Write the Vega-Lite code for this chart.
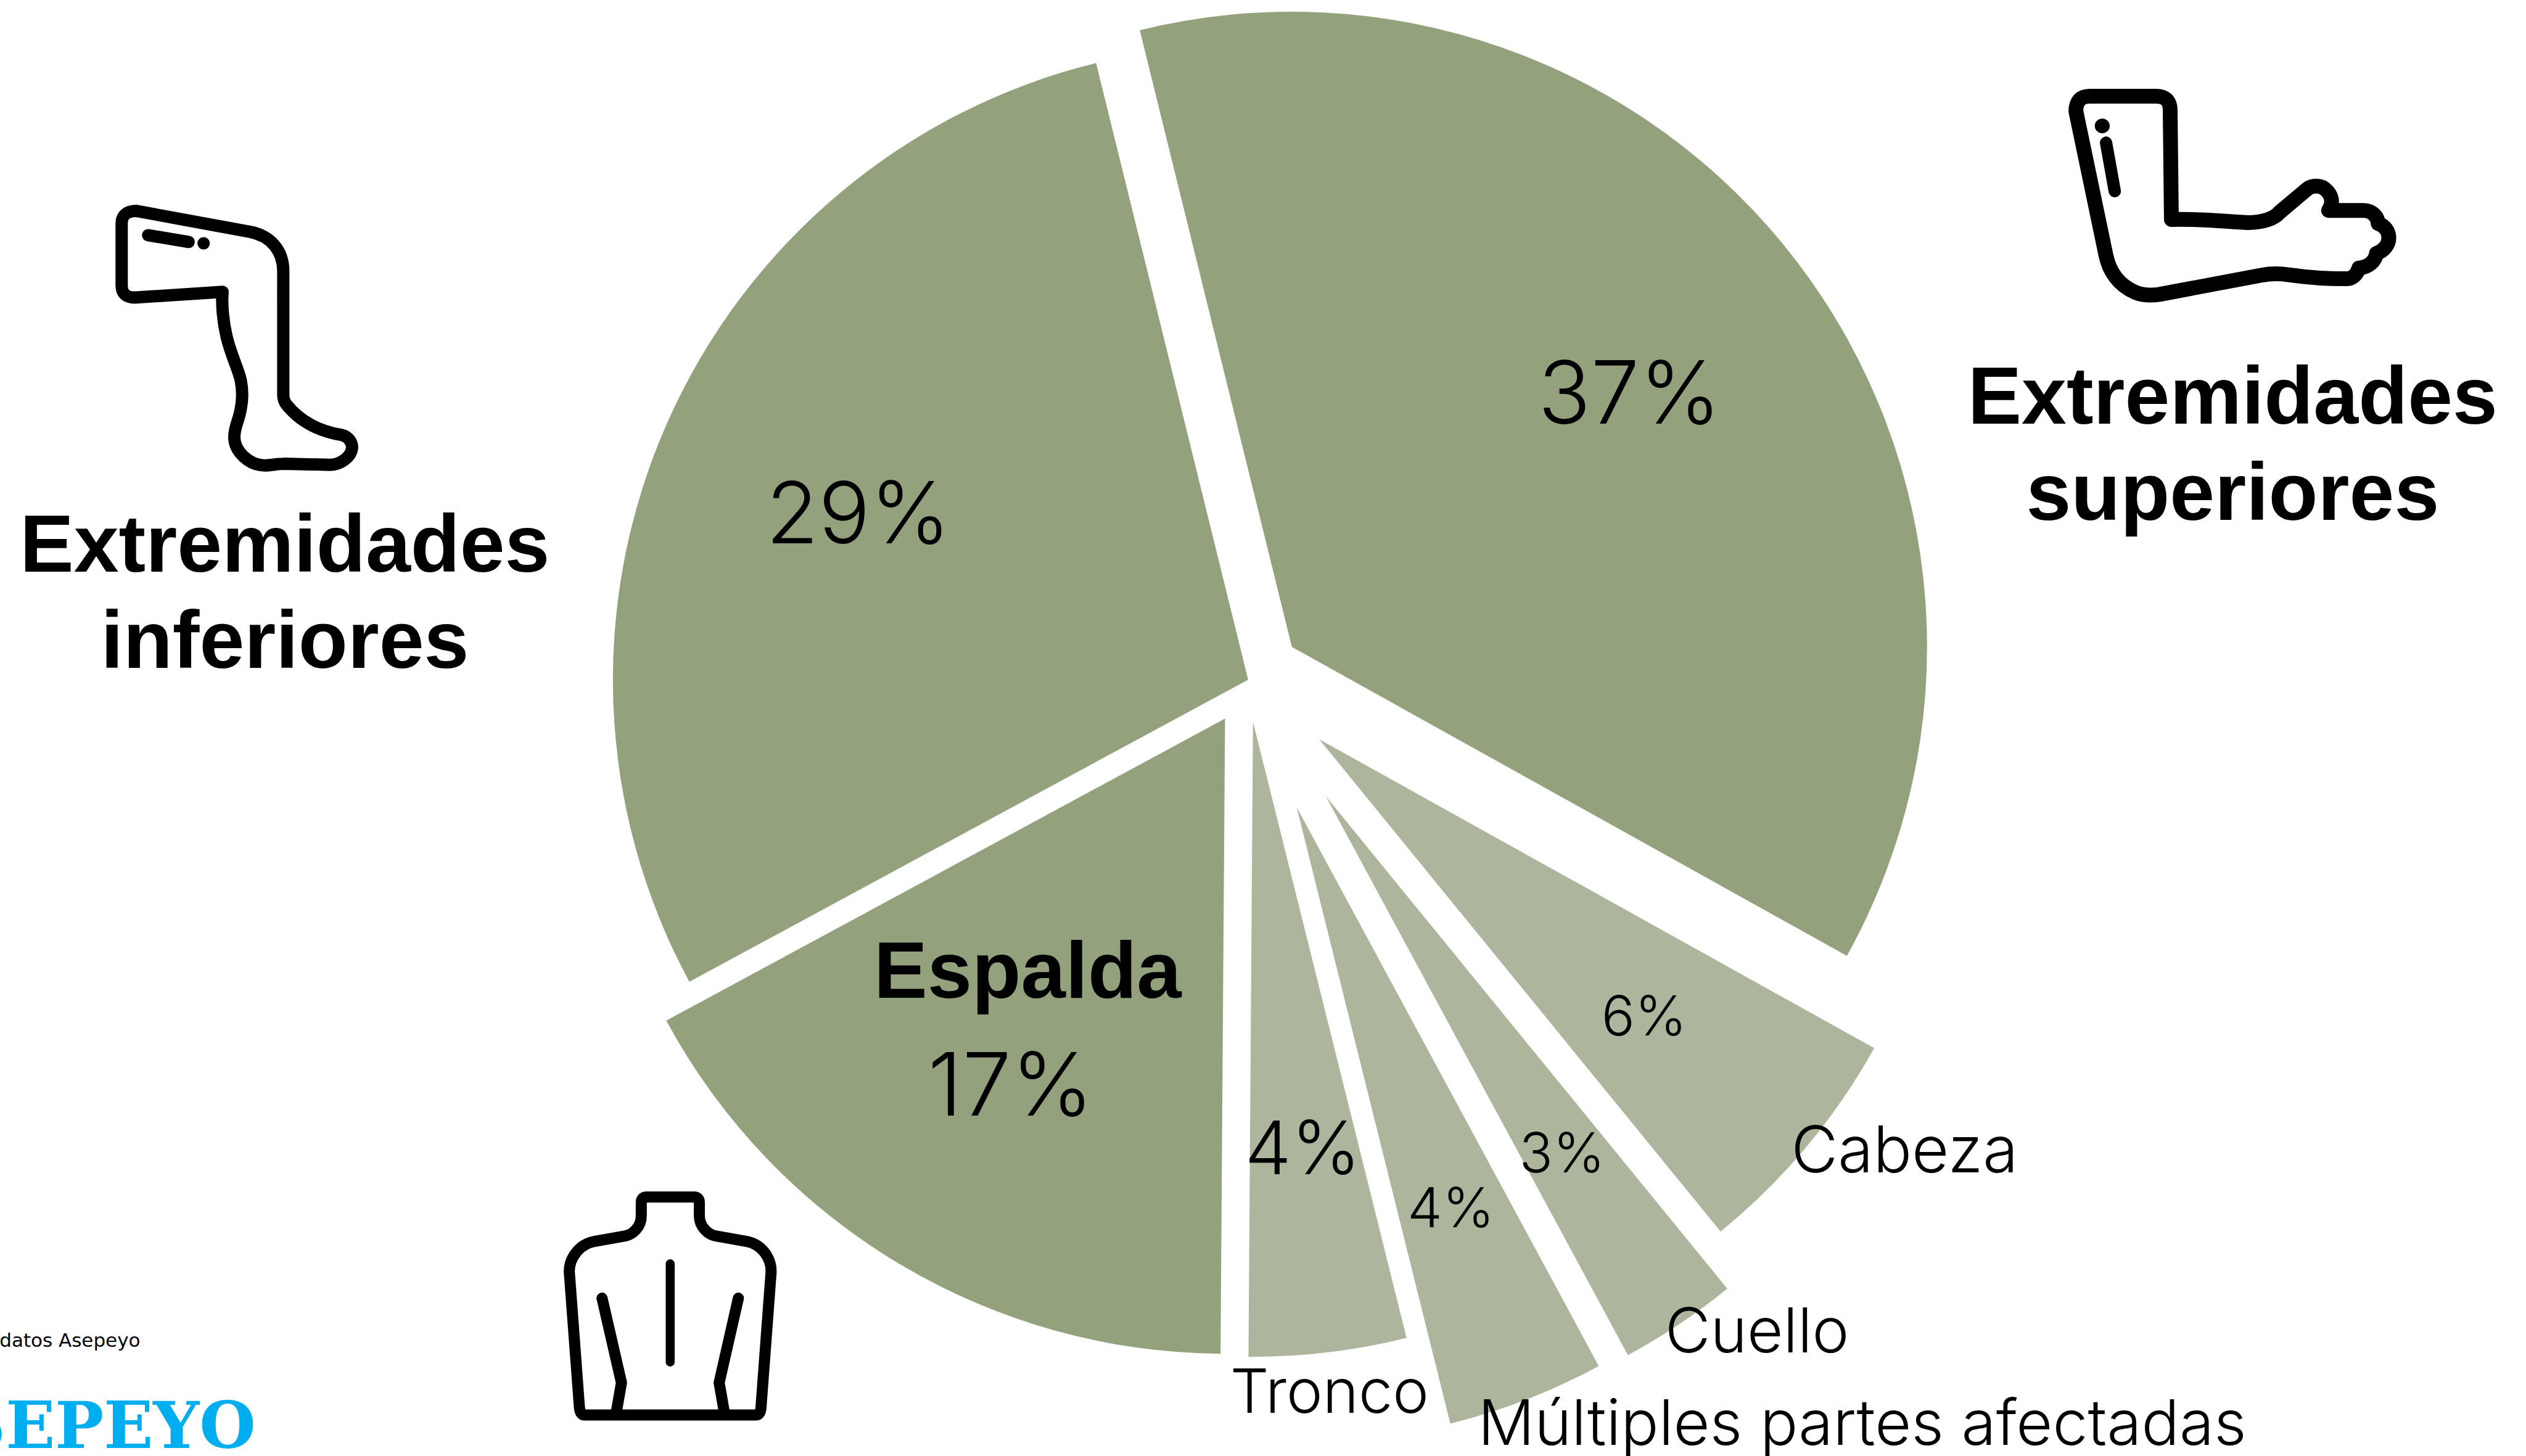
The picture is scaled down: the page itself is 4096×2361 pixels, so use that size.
{"$schema":"https://vega.github.io/schema/vega-lite/v6.json","width":4096,"height":2361,"padding":0,"autosize":{"type":"none"},"background":"#ffffff","config":{"view":{"stroke":null},"text":{"font":"Inter","fontWeight":300,"color":"#000000"}},
"data":{"values":[
{"part":"Extremidades superiores","share":"37%","value":36.93,"group":"main"},
{"part":"Cabeza","share":"6%","value":6.03,"group":"other"},
{"part":"Cuello","share":"3%","value":3.0,"group":"other"},
{"part":"Múltiples partes afectadas","share":"4%","value":4.0,"group":"other"},
{"part":"Tronco","share":"4%","value":4.0,"group":"other"},
{"part":"Espalda","share":"17%","value":17.0,"group":"main"},
{"part":"Extremidades inferiores","share":"29%","value":29.04,"group":"main"}
]},
"transform":[{"stack":"value","groupby":[],"as":["v0","v1"]}],
"layer":[
{"transform":[{"filter":"datum.part==='Extremidades superiores'"}],"mark":{"type":"arc","outerRadius":1030,"fill":"#93a17d"},"encoding":{"x":{"datum":2127,"type":"quantitative","scale":{"domain":[0,4159]},"axis":null},"y":{"datum":1065,"type":"quantitative","scale":{"domain":[2397,0]},"axis":null},"theta":{"field":"v0","type":"quantitative","stack":null,"scale":{"domain":[0,100],"range":[-0.24173,6.04146]}},"theta2":{"field":"v1"}}},
{"transform":[{"filter":"datum.part==='Extremidades inferiores'"}],"mark":{"type":"arc","outerRadius":1030,"fill":"#93a17d"},"encoding":{"x":{"datum":2055,"type":"quantitative","scale":{"domain":[0,4159]},"axis":null},"y":{"datum":1119,"type":"quantitative","scale":{"domain":[2397,0]},"axis":null},"theta":{"field":"v0","type":"quantitative","stack":null,"scale":{"domain":[0,100],"range":[-0.24173,6.04146]}},"theta2":{"field":"v1"}}},
{"transform":[{"filter":"datum.part==='Espalda'"}],"mark":{"type":"arc","outerRadius":1030,"fill":"#93a17d"},"encoding":{"x":{"datum":2017,"type":"quantitative","scale":{"domain":[0,4159]},"axis":null},"y":{"datum":1183,"type":"quantitative","scale":{"domain":[2397,0]},"axis":null},"theta":{"field":"v0","type":"quantitative","stack":null,"scale":{"domain":[0,100],"range":[-0.24173,6.04146]}},"theta2":{"field":"v1"}}},
{"transform":[{"filter":"datum.part==='Tronco'"}],"mark":{"type":"arc","outerRadius":1030,"fill":"#adb69c"},"encoding":{"x":{"datum":2063,"type":"quantitative","scale":{"domain":[0,4159]},"axis":null},"y":{"datum":1188,"type":"quantitative","scale":{"domain":[2397,0]},"axis":null},"theta":{"field":"v0","type":"quantitative","stack":null,"scale":{"domain":[0,100],"range":[-0.24173,6.04146]}},"theta2":{"field":"v1"}}},
{"transform":[{"filter":"datum.part==='Múltiples partes afectadas'"}],"mark":{"type":"arc","outerRadius":1030,"fill":"#adb69c"},"encoding":{"x":{"datum":2135,"type":"quantitative","scale":{"domain":[0,4159]},"axis":null},"y":{"datum":1329,"type":"quantitative","scale":{"domain":[2397,0]},"axis":null},"theta":{"field":"v0","type":"quantitative","stack":null,"scale":{"domain":[0,100],"range":[-0.24173,6.04146]}},"theta2":{"field":"v1"}}},
{"transform":[{"filter":"datum.part==='Cuello'"}],"mark":{"type":"arc","outerRadius":1030,"fill":"#adb69c"},"encoding":{"x":{"datum":2183,"type":"quantitative","scale":{"domain":[0,4159]},"axis":null},"y":{"datum":1311,"type":"quantitative","scale":{"domain":[2397,0]},"axis":null},"theta":{"field":"v0","type":"quantitative","stack":null,"scale":{"domain":[0,100],"range":[-0.24173,6.04146]}},"theta2":{"field":"v1"}}},
{"transform":[{"filter":"datum.part==='Cabeza'"}],"mark":{"type":"arc","outerRadius":1030,"fill":"#adb69c"},"encoding":{"x":{"datum":2172,"type":"quantitative","scale":{"domain":[0,4159]},"axis":null},"y":{"datum":1217,"type":"quantitative","scale":{"domain":[2397,0]},"axis":null},"theta":{"field":"v0","type":"quantitative","stack":null,"scale":{"domain":[0,100],"range":[-0.24173,6.04146]}},"theta2":{"field":"v1"}}},

{"transform":[{"filter":"datum.part==='Extremidades superiores'"}],"mark":{"type":"text","fontSize":141,"baseline":"alphabetic","align":"center"},"encoding":{"x":{"datum":2683,"type":"quantitative","scale":{"domain":[0,4159]},"axis":null},"y":{"datum":697,"type":"quantitative","scale":{"domain":[2397,0]},"axis":null},"text":{"field":"share"}}},
{"transform":[{"filter":"datum.part==='Extremidades inferiores'"}],"mark":{"type":"text","fontSize":139,"baseline":"alphabetic","align":"center"},"encoding":{"x":{"datum":1413,"type":"quantitative","scale":{"domain":[0,4159]},"axis":null},"y":{"datum":894,"type":"quantitative","scale":{"domain":[2397,0]},"axis":null},"text":{"field":"share"}}},
{"transform":[{"filter":"datum.part==='Espalda'"}],"mark":{"type":"text","fontSize":142,"baseline":"alphabetic","align":"center"},"encoding":{"x":{"datum":1664,"type":"quantitative","scale":{"domain":[0,4159]},"axis":null},"y":{"datum":1837,"type":"quantitative","scale":{"domain":[2397,0]},"axis":null},"text":{"field":"share"}}},
{"transform":[{"filter":"datum.part==='Tronco'"}],"mark":{"type":"text","fontSize":120,"baseline":"alphabetic","align":"center"},"encoding":{"x":{"datum":2145,"type":"quantitative","scale":{"domain":[0,4159]},"axis":null},"y":{"datum":1933,"type":"quantitative","scale":{"domain":[2397,0]},"axis":null},"text":{"field":"share"}}},
{"transform":[{"filter":"datum.part==='Múltiples partes afectadas'"}],"mark":{"type":"text","fontSize":90,"baseline":"alphabetic","align":"center"},"encoding":{"x":{"datum":2389,"type":"quantitative","scale":{"domain":[0,4159]},"axis":null},"y":{"datum":2020,"type":"quantitative","scale":{"domain":[2397,0]},"axis":null},"text":{"field":"share"}}},
{"transform":[{"filter":"datum.part==='Cuello'"}],"mark":{"type":"text","fontSize":90,"baseline":"alphabetic","align":"center"},"encoding":{"x":{"datum":2572,"type":"quantitative","scale":{"domain":[0,4159]},"axis":null},"y":{"datum":1930,"type":"quantitative","scale":{"domain":[2397,0]},"axis":null},"text":{"field":"share"}}},
{"transform":[{"filter":"datum.part==='Cabeza'"}],"mark":{"type":"text","fontSize":90,"baseline":"alphabetic","align":"center"},"encoding":{"x":{"datum":2707,"type":"quantitative","scale":{"domain":[0,4159]},"axis":null},"y":{"datum":1705,"type":"quantitative","scale":{"domain":[2397,0]},"axis":null},"text":{"field":"share"}}},

{"transform":[{"filter":"datum.part==='Extremidades superiores'"}],"mark":{"type":"text","font":"Liberation Sans","fontWeight":"bold","fontSize":131,"baseline":"alphabetic","align":"center","lineBreak":" ","lineHeight":156},"encoding":{"x":{"datum":3676,"type":"quantitative","scale":{"domain":[0,4159]},"axis":null},"y":{"datum":697,"type":"quantitative","scale":{"domain":[2397,0]},"axis":null},"text":{"field":"part"}}},
{"transform":[{"filter":"datum.part==='Extremidades inferiores'"}],"mark":{"type":"text","font":"Liberation Sans","fontWeight":"bold","fontSize":131,"baseline":"alphabetic","align":"center","lineBreak":" ","lineHeight":156},"encoding":{"x":{"datum":469,"type":"quantitative","scale":{"domain":[0,4159]},"axis":null},"y":{"datum":941,"type":"quantitative","scale":{"domain":[2397,0]},"axis":null},"text":{"field":"part"}}},
{"transform":[{"filter":"datum.part==='Espalda'"}],"mark":{"type":"text","font":"Liberation Sans","fontWeight":"bold","fontSize":130,"baseline":"alphabetic","align":"center"},"encoding":{"x":{"datum":1692,"type":"quantitative","scale":{"domain":[0,4159]},"axis":null},"y":{"datum":1643,"type":"quantitative","scale":{"domain":[2397,0]},"axis":null},"text":{"field":"part"}}},
{"transform":[{"filter":"datum.part==='Tronco'"}],"mark":{"type":"text","fontSize":99,"baseline":"alphabetic","align":"center"},"encoding":{"x":{"datum":2189,"type":"quantitative","scale":{"domain":[0,4159]},"axis":null},"y":{"datum":2326,"type":"quantitative","scale":{"domain":[2397,0]},"axis":null},"text":{"field":"part"}}},
{"transform":[{"filter":"datum.part==='Múltiples partes afectadas'"}],"mark":{"type":"text","fontSize":102,"baseline":"alphabetic","align":"center"},"encoding":{"x":{"datum":3066,"type":"quantitative","scale":{"domain":[0,4159]},"axis":null},"y":{"datum":2379,"type":"quantitative","scale":{"domain":[2397,0]},"axis":null},"text":{"field":"part"}}},
{"transform":[{"filter":"datum.part==='Cuello'"}],"mark":{"type":"text","fontSize":101,"baseline":"alphabetic","align":"center"},"encoding":{"x":{"datum":2893,"type":"quantitative","scale":{"domain":[0,4159]},"axis":null},"y":{"datum":2226,"type":"quantitative","scale":{"domain":[2397,0]},"axis":null},"text":{"field":"part"}}},
{"transform":[{"filter":"datum.part==='Cabeza'"}],"mark":{"type":"text","fontSize":104,"baseline":"alphabetic","align":"center"},"encoding":{"x":{"datum":3136,"type":"quantitative","scale":{"domain":[0,4159]},"axis":null},"y":{"datum":1930,"type":"quantitative","scale":{"domain":[2397,0]},"axis":null},"text":{"field":"part"}}},

{"data":{"values":[{"source":"datos Asepeyo"}]},"transform":[],"mark":{"type":"text","font":"DejaVu Sans","fontWeight":"normal","fontSize":31,"baseline":"alphabetic","align":"right"},"encoding":{"x":{"datum":231,"type":"quantitative","scale":{"domain":[0,4159]},"axis":null},"y":{"datum":2217,"type":"quantitative","scale":{"domain":[2397,0]},"axis":null},"text":{"field":"source"}}},
{"data":{"values":[{"logo":"ASEPEYO"}]},"mark":{"type":"text","font":"DejaVu Serif","fontWeight":"bold","fontSize":105,"baseline":"alphabetic","align":"right","color":"#00aeef"},"encoding":{"x":{"datum":421,"type":"quantitative","scale":{"domain":[0,4159]},"axis":null},"y":{"datum":2384,"type":"quantitative","scale":{"domain":[2397,0]},"axis":null},"text":{"field":"logo"}}},

{"data":{"values":[{"icon":"brazo"}]},"mark":{"type":"point","filled":false,"opacity":1,"stroke":"#000000","strokeWidth":24,"strokeCap":"round","strokeJoin":"round","size":0.4303,"shape":"M204 190 Q204 115 273 115 L599 115 Q670 115 670 185 L676 725 C806 720 949 735 1056 740 C1127 740 1186 720 1210 690 L1346 575 C1364 560 1382 560 1394 560 C1435 560 1468 600 1468 635 C1468 660 1453 680 1453 680 L1625 680 C1672 680 1698 715 1698 745 C1732 755 1751 785 1751 815 C1751 850 1726 880 1690 892 C1684 930 1654 958 1603 965 C1595 995 1571 1018 1542 1018 C1447 1018 1340 1010 1257 998 C1222 993 1174 990 1121 1000 L617 1095 C581 1100 534 1100 498 1085 C415 1050 368 980 352 900 Z M334 262 L334.5 262"},"encoding":{"x":{"datum":3350,"type":"quantitative","scale":{"domain":[0,4159]},"axis":null},"y":{"datum":120,"type":"quantitative","scale":{"domain":[2397,0]},"axis":null}}},
{"data":{"values":[{"icon":"brazo"}]},"mark":{"type":"point","filled":false,"opacity":1,"stroke":"#000000","strokeWidth":20,"strokeCap":"round","size":0.4303,"shape":"M353 345 L396 585"},"encoding":{"x":{"datum":3350,"type":"quantitative","scale":{"domain":[0,4159]},"axis":null},"y":{"datum":120,"type":"quantitative","scale":{"domain":[2397,0]},"axis":null}}},
{"data":{"values":[{"icon":"pierna"}]},"mark":{"type":"point","filled":false,"opacity":1,"stroke":"#000000","strokeWidth":20,"strokeCap":"round","strokeJoin":"round","size":0.4303,"shape":"M91 175 Q91 112 165 112 L725 215 C830 235 890 310 890 410 L890 1020 C890 1040 895 1055 905 1068 C970 1150 1060 1200 1180 1220 C1215 1228 1232 1260 1230 1285 C1225 1330 1170 1367 1120 1367 L900 1362 C860 1362 830 1370 800 1370 C720 1370 648 1300 648 1230 C648 1180 670 1150 680 1090 C690 1040 690 1000 680 950 C660 860 590 760 588 550 L590 512 L155 540 Q91 540 91 480 Z M222 232 L422 265 M496 272 L496.5 272"},"encoding":{"x":{"datum":170,"type":"quantitative","scale":{"domain":[0,4159]},"axis":null},"y":{"datum":310,"type":"quantitative","scale":{"domain":[2397,0]},"axis":null}}},
{"data":{"values":[{"icon":"espalda"}]},"mark":{"type":"point","filled":false,"opacity":1,"stroke":"#000000","strokeWidth":18,"strokeCap":"round","strokeJoin":"round","size":0.4303,"shape":"M468 215 L468 150 Q468 122 495 122 L728 122 Q755 122 755 150 L755 215 C755 270 800 310 840 315 L990 342 C1060 355 1110 420 1110 490 L1060 1160 Q1058 1200 1035 1200 L188 1200 Q165 1200 162 1160 L112 490 C112 420 165 355 235 342 L385 315 C425 310 468 270 468 215 Z M274 622 L370 1040 L343 1195 M948 622 L853 1040 L880 1195"},"encoding":{"x":{"datum":900,"type":"quantitative","scale":{"domain":[0,4159]},"axis":null},"y":{"datum":1930,"type":"quantitative","scale":{"domain":[2397,0]},"axis":null}}},
{"data":{"values":[{"icon":"espalda"}]},"mark":{"type":"point","filled":false,"opacity":1,"stroke":"#000000","strokeWidth":14.5,"strokeCap":"round","size":0.4303,"shape":"M611 452 L611 938"},"encoding":{"x":{"datum":900,"type":"quantitative","scale":{"domain":[0,4159]},"axis":null},"y":{"datum":1930,"type":"quantitative","scale":{"domain":[2397,0]},"axis":null}}}
]}
